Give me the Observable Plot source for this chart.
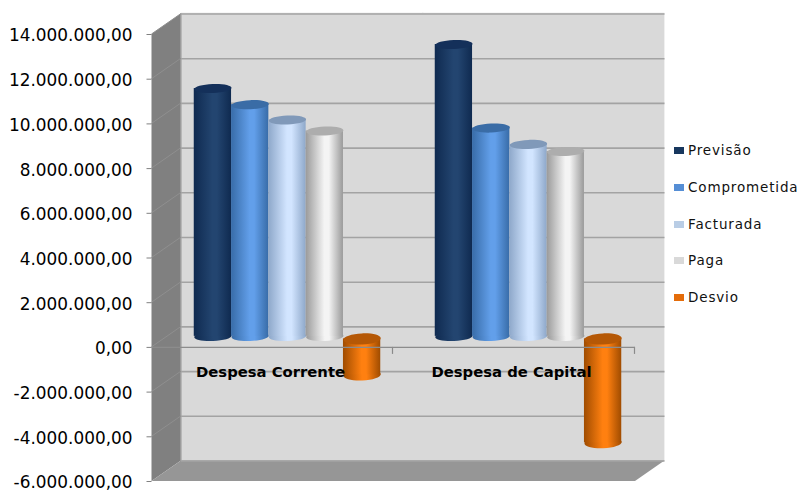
<!DOCTYPE html>
<html>
<head>
<meta charset="utf-8">
<script src="https://cdn.jsdelivr.net/npm/d3@7"></script>
<script src="https://cdn.jsdelivr.net/npm/@observablehq/plot@0.6"></script>
<style>
  html, body { margin: 0; padding: 0; background: #fff; }
  #chart { position: relative; width: 798px; height: 491px; overflow: hidden; }
  #legend { position: absolute; left: 674px; top: 132px; font: 13.5px "DejaVu Sans", sans-serif; letter-spacing: 0.85px; color: #111; }
  #legend div { position: absolute; white-space: nowrap; height: 18px; line-height: 18px; }
  #legend i { display: inline-block; width: 10px; height: 7px; margin-right: 4px; vertical-align: 1px; }
</style>
</head>
<body>
<div id="chart"></div>
<script>
// Budget execution by expense type, in euros
const categories = ["Despesa Corrente", "Despesa de Capital"];
const series = ["Previsão", "Comprometida", "Facturada", "Paga", "Desvio"];
const previsao = [11090000, 13060000];
const comprometida = [10370000, 9320000];
const facturada = [9680000, 8590000];
const paga = [9190000, 8270000];
const desvio = [-1610000, -4650000];
const yTicks = d3.range(-6000000, 14000001, 2000000);

const seriesValues = [previsao, comprometida, facturada, paga, desvio];
const swatches = ["#17375e", "#558ed5", "#b9cde5", "#d9d9d9", "#e46c0a"];
// edge, centre and cap tones of each cylinder
const tones = [
  ["#0f2a50", "#234570", "#14305a"],
  ["#386ca8", "#629fea", "#3a6ca6"],
  ["#8ea8ca", "#d2e5ff", "#8099b9"],
  ["#9a9a9a", "#f4f4f4", "#adadad"],
  ["#a04c00", "#ff8010", "#b55806"]
];

const table = categories.flatMap((category, c) =>
  series.map((name, s) => ({category, name, value: seriesValues[s][c]}))
);

// Depth offset of the back wall and of the bars' plane
const wallDx = 29.5, wallDy = -20.5;
const barDx = 15;
const barDys = [-11, -11, -11, -11, -8.5];
const capRys = [4.5, 4.5, 4.5, 4.5, 5.5];
const barW = 37.3, tilt = -0.04;
const bandW = 241;
const formatValue = d3.format(",.2f");
const ptLabel = (d) =>
  formatValue(d).replace(/[.,]/g, (m) => (m === "," ? "." : ",")).replace("−", "-");

// Slightly tilted ellipse used for the cylinder ends
const ellipse = (ry) => ({
  draw(ctx) {
    const k = 0.5523, rx = barW / 2;
    const p = (x, y) => [x * Math.cos(tilt) - y * Math.sin(tilt), x * Math.sin(tilt) + y * Math.cos(tilt)];
    ctx.moveTo(...p(rx, 0));
    ctx.bezierCurveTo(...p(rx, k * ry), ...p(k * rx, ry), ...p(0, ry));
    ctx.bezierCurveTo(...p(-k * rx, ry), ...p(-rx, k * ry), ...p(-rx, 0));
    ctx.bezierCurveTo(...p(-rx, -k * ry), ...p(-k * rx, -ry), ...p(0, -ry));
    ctx.bezierCurveTo(...p(k * rx, -ry), ...p(rx, -k * ry), ...p(rx, 0));
    ctx.closePath();
  }
});

// Shared gradient definitions for the cylinder bodies
function gradients() {
  const defs = d3.create("svg:defs");
  tones.forEach(([edge, mid], s) => {
    const g = defs.append("linearGradient").attr("id", `body${s}`).attr("x1", 0).attr("x2", 1).attr("y1", 0).attr("y2", 0);
    [[0, edge], [0.5, mid], [0.62, mid], [1, edge]].forEach(([o, c]) =>
      g.append("stop").attr("offset", o).attr("stop-color", c));
  });
  return defs.node();
}

// Left wall, floor and the receding grid lines, all derived from the y scale
function walls(index, {y}, values, {marginLeft, marginRight, width}) {
  const g = d3.create("svg:g");
  const x0 = marginLeft, x1 = width - marginRight;
  const top = y(yTicks[yTicks.length - 1]), bottom = y(yTicks[0]);
  g.append("path").attr("fill", "#808080")
    .attr("d", `M${x0},${top}L${x0 + wallDx},${top + wallDy}L${x0 + wallDx},${bottom + wallDy}L${x0},${bottom}Z`);
  g.append("path").attr("fill", "#969696")
    .attr("d", `M${x0},${bottom}L${x0 + wallDx},${bottom + wallDy}L${x1 + wallDx},${bottom + wallDy}L${x1},${bottom}Z`);
  g.append("line").attr("stroke", "#a8a8a8").attr("stroke-width", 1.4)
    .attr("x1", x0 + wallDx).attr("x2", x0 + wallDx).attr("y1", top + wallDy).attr("y2", bottom + wallDy);
  yTicks.slice(1).forEach((t) => {
    g.append("line").attr("stroke", "#8f8f8f").attr("stroke-width", 1)
      .attr("x1", x0).attr("y1", y(t)).attr("x2", x0 + wallDx).attr("y2", y(t) + wallDy);
  });
  return g.node();
}

// Category separators hanging from the zero line
function categoryTicks(index, {x, y}) {
  const g = d3.create("svg:g");
  categories.forEach((c, i) => {
    const px = x(c) + x.bandwidth() + i;
    g.append("line").attr("stroke", "#8a8a8a").attr("stroke-width", 1.2)
      .attr("x1", px).attr("x2", px).attr("y1", y(0)).attr("y2", y(0) + 7);
  });
  return g.node();
}

const cylinders = series.flatMap((name, s) => {
  const rows = table.filter((d) => d.name === name);
  const side = (bandW - 5 * barW) / 2;
  const dotDx = barDx + (s - 2) * barW;
  const common = {x: "category", dy: barDys[s]};
  const end = ellipse(capRys[s]);
  return [
    Plot.dot(rows, {...common, y: (d) => Math.min(d.value, 0), dx: dotDx, symbol: end, fill: `url(#body${s})`, stroke: "none"}),
    Plot.barY(rows, {...common, y1: () => 0, y2: "value", dx: barDx, fill: `url(#body${s})`,
      insetLeft: side + s * barW, insetRight: side + (4 - s) * barW}),
    Plot.dot(rows, {...common, y: (d) => Math.max(d.value, 0), dx: dotDx, symbol: end, fill: tones[s][2], stroke: "none"})
  ];
});

const plot = Plot.plot({
  width: 798,
  height: 491,
  marginLeft: 151.5,
  marginRight: 163,
  marginTop: 34,
  marginBottom: 10,
  style: {background: "#fff", overflow: "visible"},
  x: {type: "band", domain: categories, padding: 0, round: false, range: [151.5, 633.5], axis: null},
  y: {domain: [-6000000, 14000000]},
  marks: [
    gradients,
    // back wall
    Plot.barY(categories, {x: (d) => d, y1: () => -6000000, y2: () => 14000000, dx: wallDx + 0.7, dy: wallDy,
      fill: "#d9d9d9", stroke: "#d9d9d9", strokeWidth: 1.4}),
    walls,
    Plot.ruleY(yTicks, {dx: wallDx, dy: wallDy, stroke: "#a3a3a3", strokeWidth: 1.6}),
    // tick marks and their labels are offset separately
    Plot.axisY({ticks: yTicks, tickFormat: () => "", tickSize: 5, label: null, stroke: "#808080"}),
    Plot.axisY({ticks: yTicks, tickFormat: ptLabel, tickSize: 0, tickPadding: 19.5, label: null, dy: 1.5,
      fontSize: 16.9, fontFamily: "DejaVu Sans", textStroke: "none", color: "#000"}),
    categoryTicks,
    ...cylinders,
    Plot.ruleY([0], {stroke: "#8c8c8c", strokeWidth: 1.4}),
    Plot.text(categories, {x: (d) => d, y: () => 0, dy: 24.5, dx: -2, text: (d) => d, fill: "#000",
      fontFamily: "DejaVu Sans", fontWeight: "bold", fontSize: 14.8})
  ]
});

const root = document.getElementById("chart");
root.appendChild(plot);

// Key on the right-hand side of the chart
const legend = document.createElement("div");
legend.id = "legend";
series.forEach((name, s) => {
  const row = document.createElement("div");
  row.style.top = `${s * 36.8 + 9}px`;
  row.innerHTML = `<i style="background:${swatches[s]}"></i>${name}`;
  legend.appendChild(row);
});
root.appendChild(legend);
</script>
</body>
</html>
